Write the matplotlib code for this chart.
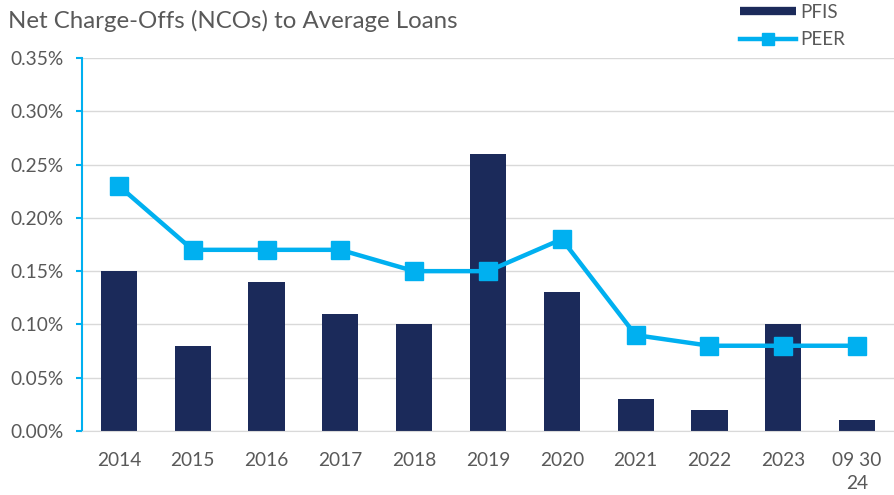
import matplotlib
matplotlib.use("Agg")
import matplotlib.pyplot as plt
from matplotlib.lines import Line2D
from matplotlib.ticker import FuncFormatter

categories = ["2014", "2015", "2016", "2017", "2018", "2019", "2020",
              "2021", "2022", "2023", "09 30\n24"]
pfis = [0.15, 0.08, 0.14, 0.11, 0.10, 0.26, 0.13, 0.03, 0.02, 0.10, 0.01]
peer = [0.23, 0.17, 0.17, 0.17, 0.15, 0.15, 0.18, 0.09, 0.08, 0.08, 0.08]

navy = "#1B2A5A"
blue = "#00B0F0"
grey = "#595959"

plt.rcParams['font.family'] = ['Lato', 'DejaVu Sans']

fig = plt.figure(figsize=(8.94, 4.95), dpi=100)
ax = fig.add_axes([0.0917, 0.1293, 0.9083, 0.7535])

x = list(range(len(categories)))
ax.bar(x, pfis, width=0.49, color=navy, zorder=2)
ax.plot(x, peer, color=blue, linewidth=3.2, marker="s", markersize=13, zorder=3)

ax.set_xlim(-0.5, len(categories) - 0.5)
ax.set_ylim(0, 0.35)
ax.set_yticks([i * 0.05 for i in range(8)])
ax.yaxis.set_major_formatter(FuncFormatter(lambda v, p: f"{v:.2f}%"))
ax.set_xticks(x)
ax.set_xticklabels(categories, linespacing=1.45)

ax.grid(axis="y", color="#D9D9D9", linewidth=1, zorder=0)
ax.set_axisbelow(True)
for s in ["top", "right"]:
    ax.spines[s].set_visible(False)
ax.spines["left"].set_color(blue)
ax.spines["left"].set_linewidth(1.5)
ax.spines["bottom"].set_color("#D9D9D9")
ax.tick_params(axis="y", colors=blue, length=4.5, width=1.5, labelcolor=grey,
               labelsize=13.8, pad=9)
ax.tick_params(axis="x", length=0, labelcolor=grey, labelsize=13.8, pad=15)

fig.text(0.009, 0.958, "Net Charge-Offs (NCOs) to Average Loans",
         fontsize=17.3, color=grey, va="center")

# legend proxies: flat navy block for the bars, line with small square for PEER
pfis_handle = Line2D([], [], color=navy, linewidth=6, solid_capstyle="butt",
                     label="PFIS")
peer_handle = Line2D([], [], color=blue, linewidth=3.2, marker="s",
                     markersize=9, label="PEER")
fig.legend(handles=[pfis_handle, peer_handle], loc="upper left",
           bbox_to_anchor=(740 / 894, 1 - 4 / 495), frameon=False,
           fontsize=13.5, labelcolor=grey, handlelength=3.0, handletextpad=0.2,
           labelspacing=0.55, borderaxespad=0, borderpad=0)

fig.savefig("out.png", dpi=100)
